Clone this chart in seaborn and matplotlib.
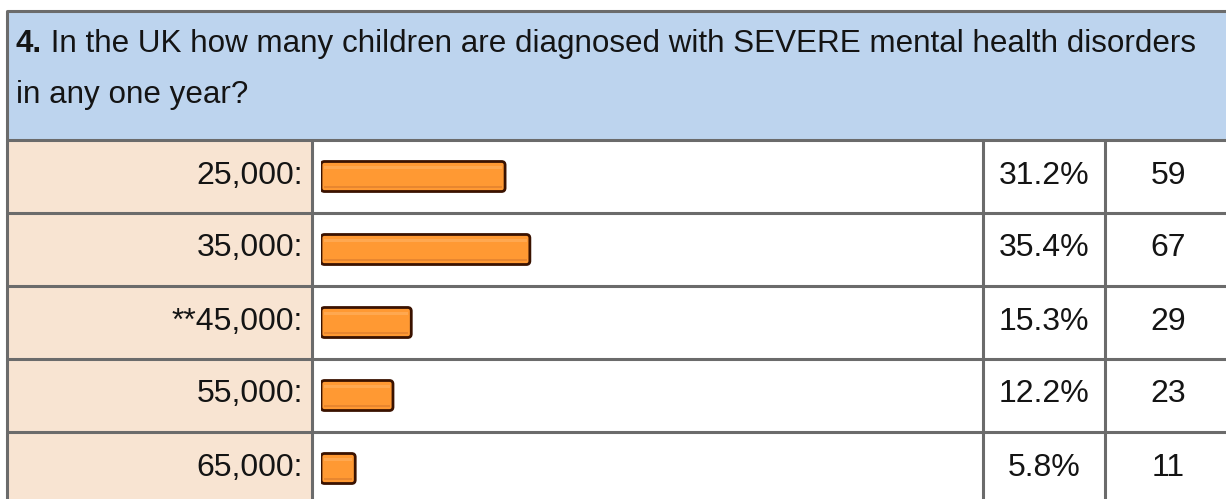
import matplotlib
matplotlib.use("Agg")
import matplotlib.pyplot as plt
import seaborn as sns
import pandas as pd
from matplotlib.patches import Rectangle, FancyBboxPatch

# ---- data ----
question_num = "4."
question_text = " In the UK how many children are diagnosed with SEVERE mental health disorders"
question_text2 = "in any one year?"
categories = ["25,000:", "35,000:", "**45,000:", "55,000:", "65,000:"]
percents = [31.2, 35.4, 15.3, 12.2, 5.8]
counts = [59, 67, 29, 23, 11]

sns.set_theme(style="white")
plt.rcParams["font.family"] = ["Liberation Sans", "DejaVu Sans"]

W, H = 1226, 499
DPI = 100
fig = plt.figure(figsize=(W / DPI, H / DPI), dpi=DPI)
fig.patch.set_facecolor("white")

# background / table axes in pixel coordinates (y downwards)
bg = fig.add_axes([0, 0, 1, 1])
bg.set_xlim(0, W)
bg.set_ylim(H, 0)
bg.axis("off")

border = "#6b6b6b"
head_bg = "#bdd4ee"
lab_bg = "#f8e4d2"
left, top = 7, 11
head_bot = 140
row_h = 73
col_lab = 312
col_pct = 983
col_cnt = 1105
right = W + 5
n = len(categories)
bottom = head_bot + n * row_h

bg.add_patch(Rectangle((left, top), right - left, head_bot - top, facecolor=head_bg, edgecolor="none", zorder=0))
bg.add_patch(Rectangle((left, head_bot), col_lab - left, bottom - head_bot, facecolor=lab_bg, edgecolor="none", zorder=0))
lw = 2.2
bg.plot([left, left], [top, bottom], color=border, lw=lw, solid_capstyle="butt")
bg.plot([left, right], [top, top], color=border, lw=lw)
bg.plot([left, right], [head_bot, head_bot], color=border, lw=lw)
for i in range(1, n):
    y = head_bot + i * row_h
    bg.plot([left, right], [y, y], color=border, lw=lw)
for x in (col_lab, col_pct, col_cnt):
    bg.plot([x, x], [head_bot, bottom], color=border, lw=lw)

fs = 23
hfs = 22.6
tc = "#141414"
t1 = bg.text(16, 52, question_num, fontsize=hfs, fontweight="bold", ha="left", va="baseline", color=tc)
fig.canvas.draw()
bb = t1.get_window_extent()
bg.text(16 + bb.width, 52, question_text, fontsize=hfs, ha="left", va="baseline", color=tc)
bg.text(16, 103, question_text2, fontsize=hfs, ha="left", va="baseline", color=tc)

for i, (c, p, k) in enumerate(zip(categories, percents, counts)):
    yc = head_bot + i * row_h + row_h / 2 - 1
    bg.text(303, yc, c, fontsize=fs, ha="right", va="center", color=tc)
    bg.text((col_pct + col_cnt) / 2, yc, f"{p:.1f}%", fontsize=fs, ha="center", va="center", color=tc)
    bg.text((col_cnt + W) / 2 + 3, yc, f"{k}", fontsize=fs, ha="center", va="center", color=tc)

# ---- bar axes ----
px_per_unit = 5.9
bx0 = 321
bw = 660
ax = fig.add_axes([bx0 / W, (H - bottom) / H, bw / W, (bottom - head_bot) / H])
df = pd.DataFrame({"cat": categories, "pct": percents})
sns.barplot(data=df, x="pct", y="cat", ax=ax, color="#ff9933", width=30 / row_h,
            saturation=1, orient="h")
ax.set_xlim(0, bw / px_per_unit)
ax.set_ylim(n - 0.5, -0.5)
ax.axis("off")
ax.patch.set_alpha(0)

aspect = (1 / row_h) / (1 / px_per_unit)
for r in list(ax.patches):
    x, y, w, h = r.get_x(), r.get_y(), r.get_width(), r.get_height()
    r.set_visible(False)
    ax.add_patch(FancyBboxPatch((x, y), w, h, boxstyle="round,pad=0,rounding_size=0.6",
                                mutation_aspect=aspect, facecolor="#ff9933",
                                edgecolor="#3a1200", linewidth=2.0, zorder=3))
    # top highlight
    ax.add_patch(Rectangle((x + 0.5, y + h * 0.14), max(w - 1.0, 0), h * 0.10,
                           facecolor="#ffa850", edgecolor="none", zorder=4))
    # bottom shade
    ax.add_patch(Rectangle((x + 0.5, y + h * 0.80), max(w - 1.0, 0), h * 0.08,
                           facecolor="#e8862f", edgecolor="none", zorder=4))

fig.savefig("out.png", dpi=DPI)
